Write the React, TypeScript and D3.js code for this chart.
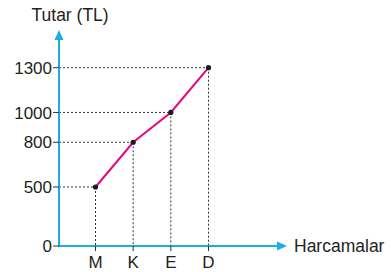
import React, { useEffect, useRef } from 'react';
import * as d3 from 'd3';

const categories = ['M', 'K', 'E', 'D'];
const values = [500, 800, 1000, 1300];
const yTicks = [0, 500, 800, 1000, 1300];
const yTitle = 'Tutar (TL)';
const xTitle = 'Harcamalar';

function Chart() {
  const chartRef = useRef<SVGSVGElement>(null);

  useEffect(() => {
    const svg = d3.select(chartRef.current);
    svg.selectAll('*').remove();

    const width = 391, height = 272;
    const axisColor = '#1aaee5';
    const lineColor = '#e5087e';
    const font = '"Liberation Sans", Arial, sans-serif';
    svg.attr('width', width).attr('height', height);

    const x0 = 59, y0 = 246;
    const xScale = d3.scalePoint().domain(categories).range([95.5, 208.5]);
    // lower segment of the axis is squeezed in the original, so piecewise scale
    const yScale = d3.scaleLinear().domain([0, 500, 1300]).range([y0, 187, 67.7]);

    const data = categories.map((c, i) => ({ c, v: values[i] }));

    // dotted guides
    const guides = svg.append('g')
      .attr('stroke', '#333')
      .attr('stroke-width', 1)
      .attr('stroke-dasharray', '2,2');
    guides.selectAll('.h')
      .data(data)
      .enter()
      .append('line')
      .attr('x1', x0)
      .attr('x2', (d) => xScale(d.c)!)
      .attr('y1', (d) => yScale(d.v))
      .attr('y2', (d) => yScale(d.v));
    guides.selectAll('.v')
      .data(data)
      .enter()
      .append('line')
      .attr('x1', (d) => xScale(d.c)!)
      .attr('x2', (d) => xScale(d.c)!)
      .attr('y1', (d) => yScale(d.v))
      .attr('y2', y0);

    // axes
    svg.append('line')
      .attr('x1', x0).attr('x2', x0)
      .attr('y1', y0).attr('y2', 38)
      .attr('stroke', axisColor).attr('stroke-width', 2);
    svg.append('path')
      .attr('d', `M${x0},30 L${x0 - 4.5},40 L${x0 + 4.5},40 Z`)
      .attr('fill', axisColor);
    svg.append('line')
      .attr('x1', x0 - 1).attr('x2', 279)
      .attr('y1', y0).attr('y2', y0)
      .attr('stroke', axisColor).attr('stroke-width', 2);
    svg.append('path')
      .attr('d', `M287,${y0} L277,${y0 - 4.5} L277,${y0 + 4.5} Z`)
      .attr('fill', axisColor);

    // y ticks
    svg.selectAll('.ytick')
      .data(yTicks)
      .enter()
      .append('line')
      .attr('x1', x0 - 6).attr('x2', x0)
      .attr('y1', (d) => yScale(d)).attr('y2', (d) => yScale(d))
      .attr('stroke', '#333').attr('stroke-width', 1);
    svg.selectAll('.ylab')
      .data(yTicks)
      .enter()
      .append('text')
      .attr('x', 52)
      .attr('y', (d) => yScale(d))
      .attr('dy', '0.36em')
      .attr('text-anchor', 'end')
      .attr('font-family', font)
      .attr('font-size', 17)
      .attr('fill', '#231f20')
      .text((d) => d);

    // x ticks
    svg.selectAll('.xtick')
      .data(categories)
      .enter()
      .append('line')
      .attr('x1', (d) => xScale(d)!).attr('x2', (d) => xScale(d)!)
      .attr('y1', y0).attr('y2', y0 + 5)
      .attr('stroke', '#333').attr('stroke-width', 1);
    svg.selectAll('.xlab')
      .data(categories)
      .enter()
      .append('text')
      .attr('x', (d) => xScale(d)!)
      .attr('y', 268)
      .attr('text-anchor', 'middle')
      .attr('font-family', font)
      .attr('font-size', 17)
      .attr('fill', '#231f20')
      .text((d) => d);

    // line + points
    const line = d3.line<{ c: string; v: number }>()
      .x((d) => xScale(d.c)!)
      .y((d) => yScale(d.v));
    svg.append('path')
      .datum(data)
      .attr('d', line)
      .attr('fill', 'none')
      .attr('stroke', lineColor)
      .attr('stroke-width', 2);
    svg.selectAll('.pt')
      .data(data)
      .enter()
      .append('circle')
      .attr('cx', (d) => xScale(d.c)!)
      .attr('cy', (d) => yScale(d.v))
      .attr('r', 2.6)
      .attr('fill', '#1a1a1a');

    // titles
    svg.append('text')
      .attr('x', 31.5)
      .attr('y', 21)
      .attr('font-family', font)
      .attr('font-size', 17.5)
      .attr('fill', '#231f20')
      .text(yTitle);
    svg.append('text')
      .attr('x', 294)
      .attr('y', 252)
      .attr('font-family', font)
      .attr('font-size', 17.5)
      .attr('fill', '#231f20')
      .text(xTitle);
  }, []);

  return <svg ref={chartRef} style={{ position: 'absolute', left: 0, top: 0, background: '#fff' }}></svg>;
}

export default function App() {
  return <Chart />;
}
